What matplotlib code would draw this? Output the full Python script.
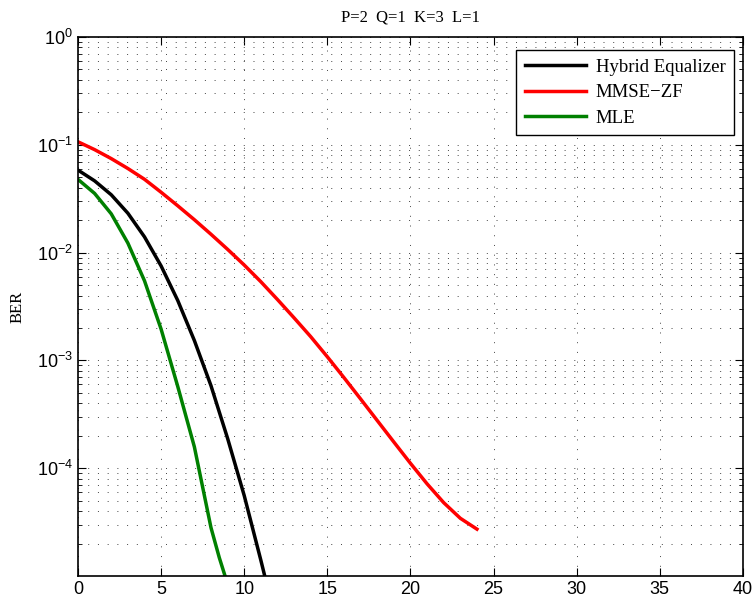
import numpy as np
import matplotlib
matplotlib.use('Agg')
import matplotlib.pyplot as plt
from matplotlib.ticker import LogLocator, NullFormatter, FixedLocator

plt.rcParams['font.family'] = ['Liberation Sans', 'DejaVu Sans']
plt.rcParams['mathtext.fontset'] = 'custom'
plt.rcParams['mathtext.rm'] = 'Liberation Sans'
plt.rcParams['mathtext.it'] = 'Liberation Sans'
plt.rcParams['mathtext.default'] = 'regular'

# SNR (dB) and BER for each receiver
snr_hybrid = [0, 1, 2, 3, 4, 5, 6, 7, 8, 9, 10, 11, 11.3]
ber_hybrid = [0.0583, 0.0463, 0.0344, 0.0232, 0.0140, 0.00752, 0.00360,
              0.00153, 5.83e-4, 1.89e-4, 5.57e-5, 1.40e-5, 9.1e-6]

snr_mmse = list(range(0, 25))
ber_mmse = [0.1067, 0.0902, 0.0745, 0.0603, 0.0479, 0.0363, 0.0272, 0.0202,
            0.0148, 0.01072, 0.00767, 0.00537, 0.00367, 0.00248, 0.00166,
            0.00108, 6.92e-4, 4.39e-4, 2.77e-4, 1.75e-4, 1.11e-4, 7.16e-5,
            4.79e-5, 3.43e-5, 2.72e-5]

snr_mle = [0, 1, 2, 3, 4, 5, 6, 7, 8, 8.5, 8.95]
ber_mle = [0.0478, 0.0354, 0.0229, 0.01227, 0.00548, 0.00195, 5.74e-4,
           1.58e-4, 2.81e-5, 1.48e-5, 8.9e-6]

fig = plt.figure(figsize=(7.55, 6.02), dpi=100)
ax = fig.add_axes([0.1033, 0.0432, 0.8807, 0.8953])

ax.semilogy(snr_hybrid, ber_hybrid, color='black', lw=2.5, label='Hybrid Equalizer')
ax.semilogy(snr_mmse, ber_mmse, color='red', lw=2.5, label='MMSE\u2212ZF')
ax.semilogy(snr_mle, ber_mle, color='#008000', lw=2.5, label='MLE')

ax.set_xlim(0, 40)
ax.set_ylim(1e-5, 1)
ax.set_xticks(np.arange(0, 41, 5))
ax.yaxis.set_major_locator(FixedLocator([1e-4, 1e-3, 1e-2, 1e-1, 1]))
ax.yaxis.set_minor_locator(LogLocator(base=10, subs=np.arange(2, 10), numticks=20))
ax.yaxis.set_minor_formatter(NullFormatter())

ax.tick_params(which='both', direction='in', top=True, right=True, labelsize=13)
ax.tick_params(which='major', length=6, width=0.8)
ax.tick_params(which='minor', length=3, width=0.6)
for s in ax.spines.values():
    s.set_linewidth(1.2)

grid_style = dict(color='#444444', linestyle=(0, (1, 9)), linewidth=0.7)
ax.grid(True, which='major', **grid_style)
ax.grid(True, which='minor', axis='y', **grid_style)

ax.set_title('P=2  Q=1  K=3  L=1', fontsize=12, family='Liberation Serif', pad=11)
ax.set_ylabel('BER', fontsize=12, family='Liberation Serif', labelpad=8)

leg = ax.legend(loc='upper right', bbox_to_anchor=(0.9865, 0.976), borderaxespad=0,
                fancybox=False, edgecolor='black', framealpha=1, handlelength=3.3,
                handletextpad=0.5, prop={'family': 'Liberation Serif', 'size': 13.5},
                borderpad=0.45, labelspacing=0.45)
leg.get_frame().set_linewidth(1.0)

fig.savefig('out.png', dpi=100)
